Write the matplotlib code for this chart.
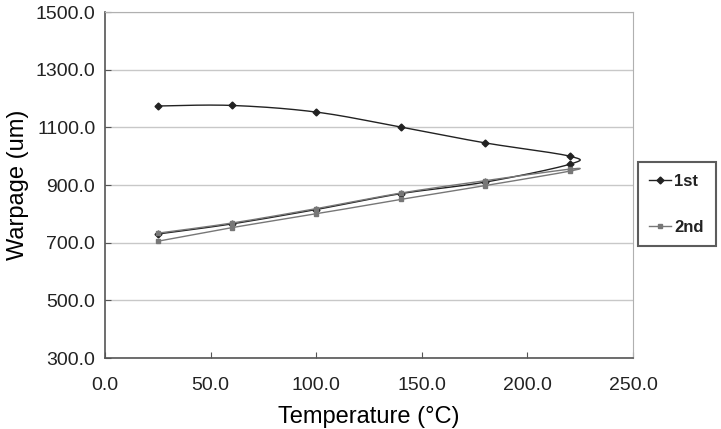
import numpy as np
import matplotlib.pyplot as plt

# heating then cooling cycle, temperature (C) vs warpage (um)
temp = [25, 60, 100, 140, 180, 220, 220, 180, 140, 100, 60, 25]
warp_1st = [1174, 1176, 1153, 1101, 1046, 1000, 972, 910, 870, 815, 765, 730]
warp_2nd = [705, 752, 800, 850, 898, 948, 955, 915, 872, 818, 768, 733]
labels = ['1st', '2nd']


def smooth(x, y, n=20):
    # catmull-rom curve through the points, like Excel's smoothed line
    x = np.asarray(x, float)
    y = np.asarray(y, float)
    px = np.r_[x[0], x, x[-1]]
    py = np.r_[y[0], y, y[-1]]
    t = np.linspace(0, 1, n)
    xs, ys = [], []
    for i in range(1, len(px) - 2):
        for p, out in ((px, xs), (py, ys)):
            p0, p1, p2, p3 = p[i - 1], p[i], p[i + 1], p[i + 2]
            out.extend(0.5 * (2 * p1 + (-p0 + p2) * t
                              + (2 * p0 - 5 * p1 + 4 * p2 - p3) * t ** 2
                              + (-p0 + 3 * p1 - 3 * p2 + p3) * t ** 3))
    return xs, ys


plt.rcParams['font.family'] = ['Liberation Sans', 'DejaVu Sans']
plt.rcParams['text.color'] = '#222222'
fig = plt.figure(figsize=(7.21, 4.29), dpi=100)
ax = fig.add_axes([0.1456, 0.1655, 0.7324, 0.8065])

styles = [dict(color='#222222', marker='D', ms=3.5),
          dict(color='#777777', marker='s', ms=3.5)]
for ys, lab, st in zip([warp_1st, warp_2nd], labels, styles):
    sx, sy = smooth(temp, ys)
    ax.plot(sx, sy, color=st['color'], lw=1.0)
    ax.plot(temp, ys, ls='none', marker=st['marker'], ms=st['ms'],
            color=st['color'])
    ax.plot([], [], color=st['color'], lw=1.0, marker=st['marker'],
            ms=st['ms'], label=lab)

ax.set_xlim(0, 250)
ax.set_ylim(300, 1500)
ax.set_xticks(np.arange(0, 251, 50))
ax.set_yticks(np.arange(300, 1501, 200))
ax.set_xticklabels(['%.1f' % v for v in np.arange(0, 251, 50)])
ax.set_yticklabels(['%.1f' % v for v in np.arange(300, 1501, 200)])
ax.tick_params(labelsize=14, length=4, direction='in', color='#555555',
               labelcolor='#222222')
ax.tick_params(axis='x', pad=14)
ax.tick_params(axis='y', pad=7)
ax.grid(axis='y', color='#c8c8c8', lw=1.0)
ax.set_axisbelow(True)
for s in ['left', 'bottom']:
    ax.spines[s].set_color('#555555')
    ax.spines[s].set_linewidth(1.2)
for s in ['top', 'right']:
    ax.spines[s].set_color('#b0b0b0')

ax.set_xlabel('Temperature (°C)', fontsize=17, labelpad=8)
ax.set_ylabel('Warpage (um)', fontsize=17, labelpad=5)

leg = ax.legend(loc='center left', bbox_to_anchor=(1.009, 0.444),
                frameon=True, fancybox=False, edgecolor='#333333',
                handlelength=1.3, handletextpad=0.2, borderpad=0.7,
                labelspacing=1.85, borderaxespad=0,
                prop={'weight': 'bold', 'size': 12})
leg.get_frame().set_linewidth(1.5)

fig.savefig('out.png', dpi=100)
